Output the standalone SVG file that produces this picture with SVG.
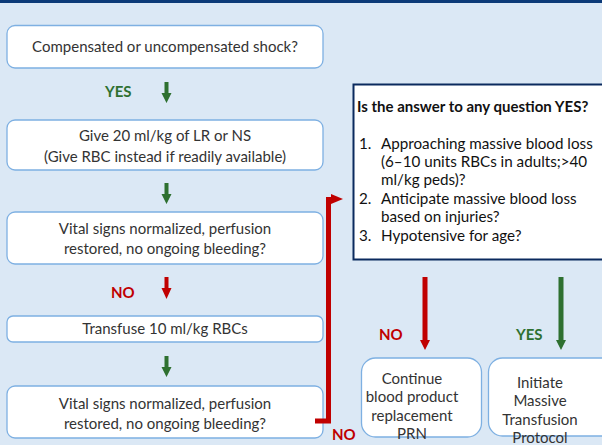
<svg xmlns="http://www.w3.org/2000/svg" width="602" height="445" viewBox="0 0 602 445">
<defs>
<style>
.bg{fill:#dbe8f5}
.box{fill:#ffffff;stroke:#7eb0e2;stroke-width:1.3}
.t{font-family:Lato,"Liberation Sans",sans-serif;font-size:15px;fill:#333333;text-anchor:middle}
.lt{font-family:Lato,"Liberation Sans",sans-serif;font-size:15.2px;fill:#111111}
.hd{font-family:Lato,"Liberation Sans",sans-serif;font-size:15px;font-weight:bold;fill:#111111}
.yes{font-family:Lato,"Liberation Sans",sans-serif;font-size:15px;font-weight:bold;fill:#2e7030}
.no{font-family:Lato,"Liberation Sans",sans-serif;font-size:15px;font-weight:bold;fill:#c00000}
.g{fill:#2e7030}
.r{fill:#c00000}
</style>
</defs>
<rect class="bg" x="0" y="0" width="602" height="445"/>
<rect x="0" y="0" width="602" height="3" fill="#0b3a78"/>

<g id="n1"><rect class="box" x="7" y="25.5" width="316" height="42.5" rx="8"/><text class="t" x="165" y="51.5">Compensated or uncompensated shock?</text></g>
<g id="n2"><rect class="box" x="7" y="120" width="316" height="50" rx="8"/><text class="t" x="165" y="141">Give 20 ml/kg of LR or NS</text><text class="t" x="165" y="162">(Give RBC instead if readily available)</text></g>
<g id="n3"><rect class="box" x="7" y="212" width="316" height="52" rx="8"/><text class="t" x="165" y="234">Vital signs normalized, perfusion</text><text class="t" x="165" y="254">restored, no ongoing bleeding?</text></g>
<g id="n4"><rect class="box" x="7" y="316" width="316" height="26" rx="6"/><text class="t" x="165" y="334">Transfuse 10 ml/kg RBCs</text></g>
<g id="n5"><rect class="box" x="7" y="386" width="316" height="52" rx="8"/><text class="t" x="165" y="409">Vital signs normalized, perfusion</text><text class="t" x="165" y="429">restored, no ongoing bleeding?</text></g>

<g id="q"><rect x="353.5" y="84.5" width="260" height="175" fill="#ffffff" stroke="#0b2a5e" stroke-width="2"/>
<text class="hd" x="357" y="112">Is the answer to any question YES?</text>
<text class="lt" x="359" y="149">1.</text><text class="lt" x="381" y="149">Approaching massive blood loss</text>
<text class="lt" x="381" y="167">(6–10 units RBCs in adults;&gt;40</text>
<text class="lt" x="381" y="185">ml/kg peds)?</text>
<text class="lt" x="359" y="204">2.</text><text class="lt" x="381" y="204">Anticipate massive blood loss</text>
<text class="lt" x="381" y="222">based on injuries?</text>
<text class="lt" x="359" y="241">3.</text><text class="lt" x="381" y="241">Hypotensive for age?</text>
</g>

<g id="n6"><rect class="box" x="361.5" y="358" width="120" height="79" rx="14"/>
<text class="t" x="412" y="384" font-size="15.5">Continue</text>
<text class="t" x="412" y="402" font-size="15.5">blood product</text>
<text class="t" x="412" y="421" font-size="15.5">replacement</text>
<text class="t" x="412" y="439" font-size="15.5">PRN</text></g>
<g id="n7"><rect class="box" x="488.5" y="358" width="130" height="78" rx="14"/>
<text class="t" x="540" y="388" font-size="15.5">Initiate</text>
<text class="t" x="540" y="406" font-size="15.5">Massive</text>
<text class="t" x="540" y="425" font-size="15.5">Transfusion</text>
<text class="t" x="540" y="443" font-size="15.5">Protocol</text></g>

<g id="connectors">
<text class="yes" x="105" y="97">YES</text>
<polygon class="g" points="164.5,82 168.5,82 168.5,93 171.5,93 166.5,103 161.5,93 164.5,93"/>
<polygon class="g" points="164.5,183 168.5,183 168.5,194 171.5,194 166.5,204 161.5,194 164.5,194"/>
<text class="no" x="111" y="298">NO</text>
<polygon class="r" points="164.5,277 168.5,277 168.5,288 171.5,288 166.5,299 161.5,288 164.5,288"/>
<polygon class="g" points="164.5,356 168.5,356 168.5,367 171.5,367 166.5,377 161.5,367 164.5,367"/>
<polyline points="315,421 328.5,421 328.5,199.5 333,199.5" fill="none" stroke="#c00000" stroke-width="5"/>
<polygon class="r" points="331,194 343,199 331,204"/>
<text class="no" x="332" y="440">NO</text>
<polygon class="r" points="422.5,277 427.5,277 427.5,340 430,340 425,350 420,340 422.5,340"/>
<text class="no" x="379" y="340">NO</text>
<polygon class="g" points="558.5,277 563.5,277 563.5,340 566,340 561,350 556,340 558.5,340"/>
<text class="yes" x="516" y="340">YES</text>
</g>
</svg>
